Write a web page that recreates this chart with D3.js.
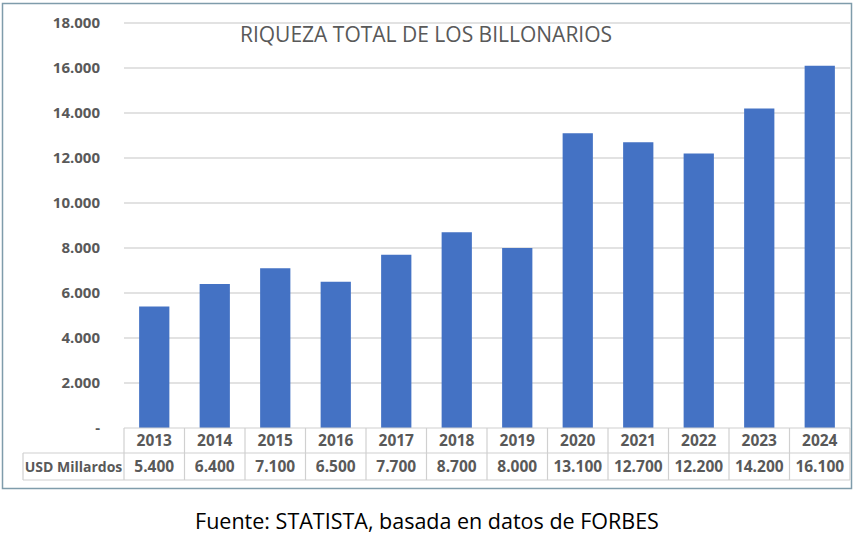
<!DOCTYPE html>
<html>
<head>
<meta charset="utf-8">
<script src="https://cdn.jsdelivr.net/npm/d3@7"></script>
<style>
  body { margin: 0; background: #fff; }
  svg { display: block; }
</style>
</head>
<body>
<svg id="chart"></svg>
<script>
// Data
const years = ["2013", "2014", "2015", "2016", "2017", "2018", "2019", "2020", "2021", "2022", "2023", "2024"];
const wealth = [5400, 6400, 7100, 6500, 7700, 8700, 8000, 13100, 12700, 12200, 14200, 16100];
const yTicks = [0, 2000, 4000, 6000, 8000, 10000, 12000, 14000, 16000, 18000];
const rowLabel = "USD Millardos";
const title = "RIQUEZA TOTAL DE LOS BILLONARIOS";
const source = "Fuente: STATISTA, basada en datos de FORBES";

// Sizes
const width = 864;
const height = 544;
const plotLeft = 124;
const plotRight = 850;
const plotTop = 23;
const plotBottom = 428;
const rowH = 26;
const tableLeft = 23;

const svg = d3.select("#chart")
    .attr("width", width)
    .attr("height", height)
    .attr("viewBox", [0, 0, width, height]);

// Spanish number format: 5.400
const es = d3.formatLocale({ decimal: ",", thousands: ".", grouping: [3], currency: ["", ""] });
const fmt = es.format(",.0f");

const x = d3.scaleBand()
    .domain(years)
    .range([plotLeft, plotRight])
    .paddingInner(0.5)
    .paddingOuter(0.25);

const y = d3.scaleLinear()
    .domain([0, 18000])
    .range([plotBottom, plotTop]);

// Outer frame
svg.append("rect")
    .attr("x", 2.5)
    .attr("y", 3.5)
    .attr("width", 849)
    .attr("height", 485)
    .attr("fill", "none")
    .attr("stroke", "#7f9cab")
    .attr("stroke-width", 1.5);

// Gridlines
svg.append("g")
    .attr("stroke", "#d9d9d9")
    .attr("stroke-width", 1.3)
  .selectAll("line")
  .data(yTicks.filter(d => d > 0))
  .join("line")
    .attr("x1", plotLeft)
    .attr("x2", plotRight)
    .attr("y1", d => y(d))
    .attr("y2", d => y(d));

// Y axis labels
svg.append("g")
    .attr("transform", `translate(${plotLeft - 21},0)`)
    .call(d3.axisLeft(y).tickValues(yTicks).tickSize(0)
        .tickFormat(d => d === 0 ? "-" : fmt(d)))
    .call(g => g.select(".domain").remove())
    .call(g => g.selectAll("text")
        .attr("fill", "#595959")
        .attr("font-family", "Open Sans, sans-serif")
        .attr("font-weight", "bold")
        .attr("font-size", 15)
        .attr("dy", "0.32em"));

// Bars
svg.append("g")
    .attr("fill", "#4472c4")
  .selectAll("rect")
  .data(wealth)
  .join("rect")
    .attr("x", (d, i) => x(years[i]))
    .attr("width", x.bandwidth())
    .attr("y", d => y(d))
    .attr("height", d => y(0) - y(d));

// Data table
const step = x.step();
const table = svg.append("g")
    .attr("stroke", "#d0d0d0")
    .attr("stroke-width", 1.2);

table.append("line")
    .attr("x1", plotLeft).attr("x2", plotRight)
    .attr("y1", plotBottom).attr("y2", plotBottom);
table.append("line")
    .attr("x1", tableLeft).attr("x2", plotRight)
    .attr("y1", plotBottom + rowH - 1).attr("y2", plotBottom + rowH - 1);
table.append("line")
    .attr("x1", tableLeft).attr("x2", plotRight)
    .attr("y1", plotBottom + 2 * rowH).attr("y2", plotBottom + 2 * rowH);
table.append("line")
    .attr("x1", tableLeft).attr("x2", tableLeft)
    .attr("y1", plotBottom + rowH - 1).attr("y2", plotBottom + 2 * rowH);
table.selectAll(".sep")
  .data(years.concat(["end"]))
  .join("line")
    .attr("x1", (d, i) => plotLeft + i * step)
    .attr("x2", (d, i) => plotLeft + i * step)
    .attr("y1", plotBottom)
    .attr("y2", plotBottom + 2 * rowH);

const cellText = (g, size) => g
    .attr("fill", "#595959")
    .attr("font-family", "Open Sans, sans-serif")
    .attr("font-weight", "bold")
    .attr("font-size", size)
    .attr("text-anchor", "middle")
    .attr("dy", "0.35em");

svg.append("g")
  .selectAll("text")
  .data(years)
  .join("text")
    .attr("x", d => x(d) + x.bandwidth() / 2)
    .attr("y", plotBottom + rowH / 2)
    .text(d => d)
    .call(cellText, 15.5);

svg.append("g")
  .selectAll("text")
  .data(wealth)
  .join("text")
    .attr("x", (d, i) => x(years[i]) + x.bandwidth() / 2)
    .attr("y", plotBottom + rowH * 1.5)
    .text(d => fmt(d))
    .call(cellText, 15.5);

svg.append("text")
    .attr("x", (tableLeft + plotLeft) / 2)
    .attr("y", plotBottom + rowH * 1.5)
    .text(rowLabel)
    .call(cellText, 14);

// Title
svg.append("text")
    .attr("x", 426)
    .attr("y", 42)
    .attr("text-anchor", "middle")
    .attr("fill", "#595959")
    .attr("font-family", "Open Sans, sans-serif")
    .attr("font-size", 21)
    .text(title);

// Source caption
svg.append("text")
    .attr("x", 427)
    .attr("y", 529)
    .attr("text-anchor", "middle")
    .attr("fill", "#000")
    .attr("font-family", "Open Sans, sans-serif")
    .attr("font-size", 21.5)
    .text(source);
</script>
</body>
</html>
